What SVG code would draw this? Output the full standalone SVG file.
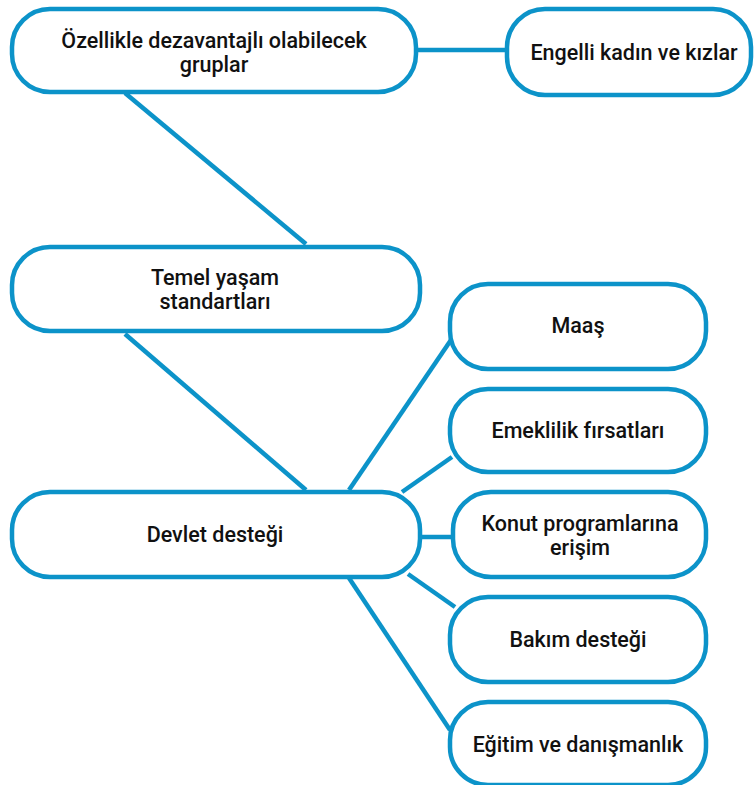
<svg xmlns="http://www.w3.org/2000/svg" width="756" height="785" viewBox="0 0 756 785">
<style>
.box{fill:#fff;stroke:#0c93c9;stroke-width:4.5}
.c{stroke:#0c93c9;stroke-width:4.5;fill:none}
text{font-family:Roboto,"Liberation Sans",sans-serif;font-weight:500;font-size:21.5px;fill:#111;text-anchor:middle}
</style>
<rect width="756" height="785" fill="#fff"/>
<g id="connectors">
<line class="c" x1="418" y1="50" x2="506" y2="50"/>
<line class="c" x1="125" y1="93" x2="306" y2="244"/>
<line class="c" x1="125" y1="334" x2="306" y2="490"/>
<line class="c" x1="349" y1="490" x2="453" y2="337"/>
<line class="c" x1="402" y1="492" x2="452" y2="457"/>
<line class="c" x1="422" y1="537" x2="452" y2="537"/>
<line class="c" x1="408" y1="574" x2="455" y2="607"/>
<line class="c" x1="349" y1="578" x2="450" y2="730"/>
</g>
<g id="n1"><rect class="box" x="12" y="9" width="404" height="83" rx="38"/>
<text x="214" y="48">Özellikle dezavantajlı olabilecek</text><text x="214" y="72">gruplar</text></g>
<g id="n2"><rect class="box" x="507" y="9" width="244" height="86" rx="38"/>
<text x="634" y="60">Engelli kadın ve kızlar</text></g>
<g id="n3"><rect class="box" x="12" y="247" width="408" height="84" rx="38"/>
<text x="215" y="285">Temel yaşam</text><text x="215" y="309">standartları</text></g>
<g id="n4"><rect class="box" x="12" y="492" width="408" height="85" rx="38"/>
<text x="215" y="542">Devlet desteği</text></g>
<g id="n5"><rect class="box" x="450" y="284" width="256" height="85" rx="38"/>
<text x="578" y="333">Maaş</text></g>
<g id="n6"><rect class="box" x="450" y="389" width="256" height="83" rx="38"/>
<text x="578" y="438">Emeklilik fırsatları</text></g>
<g id="n7"><rect class="box" x="453" y="492" width="253" height="85" rx="38"/>
<text x="580" y="531">Konut programlarına</text><text x="580" y="555">erişim</text></g>
<g id="n8"><rect class="box" x="450" y="597" width="256" height="85" rx="38"/>
<text x="578" y="647">Bakım desteği</text></g>
<g id="n9"><rect class="box" x="450" y="702" width="256" height="83" rx="38"/>
<text x="578" y="752">Eğitim ve danışmanlık</text></g>
</svg>
